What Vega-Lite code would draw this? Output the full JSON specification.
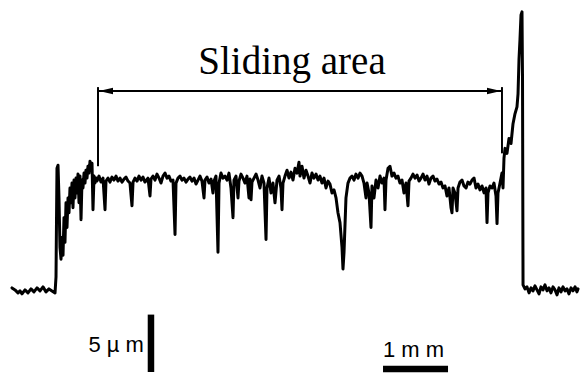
{
  "$schema": "https://vega.github.io/schema/vega-lite/v6.json",
  "width": 581,
  "height": 376,
  "autosize": {"type": "fit", "contains": "padding"},
  "padding": 0,
  "background": "white",
  "config": {"view": {"stroke": null}},
  "datasets": {
    "trace": [
      {"x":0,"y":0.18},{"x":0.046,"y":0},{"x":0.092,"y":-0.27},{"x":0.123,"y":-0.09},{"x":0.154,"y":-0.36},{"x":0.2,"y":0},{"x":0.246,"y":-0.27},{"x":0.292,"y":0.09},{"x":0.338,"y":-0.18},{"x":0.385,"y":0.18},{"x":0.431,"y":-0.09},{"x":0.477,"y":0.27},{"x":0.523,"y":-0.18},{"x":0.569,"y":0.09},{"x":0.615,"y":-0.09},{"x":0.662,"y":-0.27},
      {"x":0.677,"y":1.16},{"x":0.692,"y":10.98},{"x":0.708,"y":11.25},{"x":0.723,"y":8.3},{"x":0.738,"y":3.84},{"x":0.754,"y":2.77},{"x":0.769,"y":4.73},{"x":0.785,"y":3.13},{"x":0.8,"y":6.52},{"x":0.815,"y":4.29},{"x":0.831,"y":7.86},{"x":0.846,"y":5.63},{"x":0.862,"y":8.3},{"x":0.877,"y":6.96},{"x":0.892,"y":9.2},{"x":0.908,"y":7.86},{"x":0.923,"y":9.64},{"x":0.938,"y":7.41},{"x":0.954,"y":9.91},{"x":0.969,"y":8.3},{"x":0.985,"y":10.09},{"x":1.0,"y":8.75},{"x":1.015,"y":10.45},{"x":1.031,"y":7.86},{"x":1.046,"y":10.27},{"x":1.062,"y":6.34},{"x":1.077,"y":9.91},{"x":1.092,"y":9.2},{"x":1.108,"y":10.54},{"x":1.123,"y":9.64},{"x":1.138,"y":10.8},{"x":1.154,"y":10.09},{"x":1.169,"y":11.16},{"x":1.185,"y":10.54},{"x":1.2,"y":11.61},{"x":1.215,"y":10.8},{"x":1.231,"y":11.43},{"x":1.246,"y":7.23},{"x":1.262,"y":10.27},{"x":1.277,"y":9.64},{"x":1.292,"y":10.09},{"x":1.308,"y":9.82},
      {"x":1.338,"y":10.27},{"x":1.369,"y":9.73},{"x":1.4,"y":10.09},{"x":1.431,"y":7.23},{"x":1.446,"y":9.82},{"x":1.477,"y":10.09},{"x":1.508,"y":9.73},{"x":1.538,"y":10.18},{"x":1.569,"y":9.91},{"x":1.6,"y":10.27},{"x":1.631,"y":9.82},{"x":1.662,"y":10.09},{"x":1.692,"y":9.73},{"x":1.723,"y":10.0},{"x":1.754,"y":10.18},{"x":1.785,"y":9.82},{"x":1.815,"y":9.64},{"x":1.846,"y":7.59},{"x":1.862,"y":9.73},{"x":1.892,"y":10.09},{"x":1.923,"y":9.82},{"x":1.954,"y":10.27},{"x":1.985,"y":9.91},{"x":2.015,"y":10.18},{"x":2.046,"y":9.73},{"x":2.092,"y":10.09},{"x":2.123,"y":8.48},{"x":2.138,"y":10.0},{"x":2.169,"y":10.27},{"x":2.2,"y":9.91},{"x":2.231,"y":10.45},{"x":2.262,"y":10.09},{"x":2.292,"y":9.64},{"x":2.323,"y":10.27},{"x":2.354,"y":10.54},{"x":2.385,"y":10.09},{"x":2.415,"y":10.27},{"x":2.446,"y":9.82},{"x":2.477,"y":9.91},{"x":2.508,"y":5.0},{"x":2.523,"y":9.64},{"x":2.554,"y":10.09},{"x":2.585,"y":10.27},{"x":2.615,"y":9.91},{"x":2.646,"y":10.09},{"x":2.677,"y":9.73},{"x":2.708,"y":10.0},{"x":2.738,"y":10.18},{"x":2.769,"y":9.82},{"x":2.8,"y":10.09},{"x":2.831,"y":9.55},{"x":2.862,"y":9.91},{"x":2.892,"y":10.27},{"x":2.923,"y":9.82},{"x":2.954,"y":8.3},{"x":2.969,"y":9.91},{"x":3.0,"y":10.18},{"x":3.031,"y":9.64},{"x":3.062,"y":10.0},{"x":3.092,"y":8.75},{"x":3.108,"y":9.82},{"x":3.138,"y":10.27},{"x":3.169,"y":3.39},{"x":3.185,"y":9.64},{"x":3.215,"y":10.54},{"x":3.246,"y":10.09},{"x":3.277,"y":10.27},{"x":3.308,"y":9.91},{"x":3.338,"y":10.54},{"x":3.369,"y":9.2},{"x":3.4,"y":6.52},{"x":3.415,"y":9.91},{"x":3.446,"y":10.27},{"x":3.477,"y":8.3},{"x":3.492,"y":9.82},{"x":3.523,"y":10.45},{"x":3.554,"y":10.09},{"x":3.585,"y":9.64},{"x":3.615,"y":10.27},{"x":3.646,"y":8.3},{"x":3.662,"y":10.0},{"x":3.677,"y":8.13},{"x":3.692,"y":9.73},{"x":3.723,"y":10.09},{"x":3.754,"y":10.45},{"x":3.785,"y":9.91},{"x":3.815,"y":9.2},{"x":3.846,"y":10.27},{"x":3.877,"y":9.64},{"x":3.908,"y":4.55},{"x":3.923,"y":9.2},{"x":3.954,"y":10.09},{"x":3.985,"y":8.75},{"x":4.015,"y":9.64},{"x":4.046,"y":7.86},{"x":4.077,"y":9.91},{"x":4.108,"y":10.27},{"x":4.138,"y":9.2},{"x":4.154,"y":7.23},{"x":4.169,"y":9.64},{"x":4.2,"y":10.27},{"x":4.231,"y":10.8},{"x":4.262,"y":10.09},{"x":4.292,"y":10.63},{"x":4.323,"y":9.91},{"x":4.354,"y":10.98},{"x":4.385,"y":10.54},{"x":4.415,"y":11.52},{"x":4.431,"y":10.27},{"x":4.462,"y":11.16},{"x":4.492,"y":10.09},{"x":4.523,"y":10.8},{"x":4.554,"y":10.27},{"x":4.585,"y":9.64},{"x":4.615,"y":10.54},{"x":4.646,"y":10.09},{"x":4.677,"y":10.45},{"x":4.708,"y":9.91},{"x":4.738,"y":10.27},{"x":4.769,"y":9.64},{"x":4.8,"y":10.09},{"x":4.831,"y":9.2},{"x":4.862,"y":9.82},{"x":4.892,"y":9.55},{"x":4.923,"y":8.75},{"x":4.954,"y":9.02},{"x":4.985,"y":8.3},{"x":5.015,"y":6.96},{"x":5.046,"y":6.07},{"x":5.077,"y":3.84},{"x":5.092,"y":1.88},{"x":5.108,"y":3.39},{"x":5.138,"y":8.3},{"x":5.169,"y":9.64},{"x":5.2,"y":10.09},{"x":5.231,"y":10.27},{"x":5.262,"y":9.91},{"x":5.292,"y":10.45},{"x":5.323,"y":10.09},{"x":5.354,"y":10.54},{"x":5.385,"y":10.27},{"x":5.415,"y":9.64},{"x":5.446,"y":8.3},{"x":5.462,"y":9.64},{"x":5.492,"y":8.75},{"x":5.523,"y":5.63},{"x":5.538,"y":9.38},{"x":5.569,"y":8.3},{"x":5.6,"y":9.91},{"x":5.631,"y":9.2},{"x":5.662,"y":10.27},{"x":5.692,"y":9.64},{"x":5.723,"y":10.09},{"x":5.738,"y":7.23},{"x":5.754,"y":9.91},{"x":5.785,"y":10.98},{"x":5.815,"y":11.16},{"x":5.846,"y":10.27},{"x":5.877,"y":10.54},{"x":5.908,"y":10.09},{"x":5.938,"y":10.27},{"x":5.969,"y":9.64},{"x":6.0,"y":9.91},{"x":6.031,"y":8.75},{"x":6.062,"y":9.64},{"x":6.092,"y":7.59},{"x":6.108,"y":9.82},{"x":6.138,"y":10.09},{"x":6.169,"y":10.45},{"x":6.2,"y":10.09},{"x":6.231,"y":10.36},{"x":6.262,"y":9.82},{"x":6.292,"y":10.09},{"x":6.323,"y":10.45},{"x":6.354,"y":9.91},{"x":6.385,"y":10.27},{"x":6.415,"y":9.55},{"x":6.446,"y":10.09},{"x":6.477,"y":10.27},{"x":6.508,"y":9.82},{"x":6.538,"y":10.0},{"x":6.569,"y":9.55},{"x":6.6,"y":9.73},{"x":6.631,"y":9.2},{"x":6.662,"y":9.38},{"x":6.692,"y":8.48},{"x":6.723,"y":9.2},{"x":6.754,"y":7.41},{"x":6.769,"y":6.96},{"x":6.785,"y":9.2},{"x":6.815,"y":8.75},{"x":6.846,"y":7.14},{"x":6.862,"y":9.2},{"x":6.892,"y":9.73},{"x":6.923,"y":9.91},{"x":6.954,"y":9.38},{"x":6.985,"y":9.2},{"x":7.015,"y":9.73},{"x":7.046,"y":9.55},{"x":7.077,"y":9.91},{"x":7.108,"y":10.09},{"x":7.138,"y":9.2},{"x":7.169,"y":9.55},{"x":7.2,"y":9.02},{"x":7.231,"y":9.38},{"x":7.262,"y":8.75},{"x":7.292,"y":9.2},{"x":7.308,"y":6.07},{"x":7.323,"y":8.75},{"x":7.354,"y":9.38},{"x":7.385,"y":9.2},{"x":7.415,"y":9.64},{"x":7.446,"y":8.48},{"x":7.462,"y":5.98},{"x":7.477,"y":8.75},{"x":7.508,"y":9.64},{"x":7.538,"y":10.54},{"x":7.554,"y":9.2},{"x":7.569,"y":11.88},{"x":7.585,"y":12.77},{"x":7.615,"y":12.32},{"x":7.646,"y":13.66},{"x":7.677,"y":13.21},{"x":7.708,"y":15.0},{"x":7.738,"y":15.89},{"x":7.769,"y":16.52},{"x":7.785,"y":17.68},{"x":7.8,"y":20.8},{"x":7.815,"y":22.59},{"x":7.831,"y":24.82},{"x":7.846,"y":25.09},{"x":7.854,"y":19.02},{"x":7.862,"y":0.45},
      {"x":7.892,"y":0.09},{"x":7.923,"y":0.27},{"x":7.954,"y":-0.27},{"x":7.985,"y":0.18},{"x":8.015,"y":-0.09},{"x":8.046,"y":0.36},{"x":8.077,"y":0},{"x":8.108,"y":-0.36},{"x":8.138,"y":0.27},{"x":8.169,"y":0},{"x":8.2,"y":0.45},{"x":8.231,"y":-0.09},{"x":8.262,"y":0.18},{"x":8.292,"y":-0.27},{"x":8.323,"y":0.27},{"x":8.354,"y":0},{"x":8.385,"y":-0.45},{"x":8.415,"y":0.18},{"x":8.446,"y":-0.18},{"x":8.477,"y":0.27},{"x":8.508,"y":-0.09},{"x":8.538,"y":0.09},{"x":8.569,"y":-0.36},{"x":8.6,"y":0.18},{"x":8.631,"y":-0.09},{"x":8.662,"y":0.27},{"x":8.692,"y":-0.18},{"x":8.708,"y":0.09}
    ],
    "bracket": [
      {"x":1.323,"y":17.95,"x2":7.538,"y2":17.95},
      {"x":1.323,"y":18.3,"x2":1.323,"y2":11.16},
      {"x":7.538,"y":18.3,"x2":7.538,"y2":12.32}
    ],
    "arrows": [
      {"x":1.446,"y":17.95,"side":"left"},
      {"x":7.415,"y":17.95,"side":"right"}
    ],
    "bars": [
      {"x":2.138,"y":-2.23,"x2":2.138,"y2":-7.41},
      {"x":5.708,"y":-7.14,"x2":6.708,"y2":-7.14}
    ],
    "title": [{"x":4.308,"y":19.46,"label":"Sliding area"}],
    "umlabel": [{"x":2.03,"y":-5.0,"label":"5 µ m"}],
    "mmlabel": [{"x":5.708,"y":-5.45,"label":"1 m m"}]
  },
  "encoding": {
    "x": {"field":"x","type":"quantitative","scale":{"domain":[-0.1846,8.7538],"nice":false,"zero":false},"axis":null},
    "y": {"field":"y","type":"quantitative","scale":{"domain":[-7.4107,26.1607],"nice":false,"zero":false},"axis":null}
  },
  "layer": [
    {"data":{"name":"trace"},"mark":{"type":"line","color":"black","strokeWidth":3,"strokeJoin":"round","strokeCap":"round"}},
    {"data":{"name":"bracket"},"mark":{"type":"rule","color":"black","strokeWidth":2},"encoding":{"x2":{"field":"x2"},"y2":{"field":"y2"}}},
    {"data":{"name":"arrows"},"mark":{"type":"point","filled":true,"color":"black","opacity":1,"size":196},
     "encoding":{"shape":{"field":"side","type":"nominal","scale":{"domain":["left","right"],"range":["M-1,0L1,-0.45L1,0.45Z","M1,0L-1,-0.45L-1,0.45Z"]},"legend":null}}},
    {"data":{"name":"bars"},"mark":{"type":"rule","color":"black","strokeWidth":6.5},"encoding":{"x2":{"field":"x2"},"y2":{"field":"y2"}}},
    {"data":{"name":"title"},"mark":{"type":"text","font":"Liberation Serif","fontSize":39,"align":"center","baseline":"alphabetic","color":"black"},"encoding":{"text":{"field":"label"}}},
    {"data":{"name":"umlabel"},"mark":{"type":"text","font":"Liberation Sans","fontSize":22,"align":"right","baseline":"middle","color":"black"},"encoding":{"text":{"field":"label"}}},
    {"data":{"name":"mmlabel"},"mark":{"type":"text","font":"Liberation Sans","fontSize":22,"align":"left","baseline":"middle","color":"black"},"encoding":{"text":{"field":"label"}}}
  ]
}
